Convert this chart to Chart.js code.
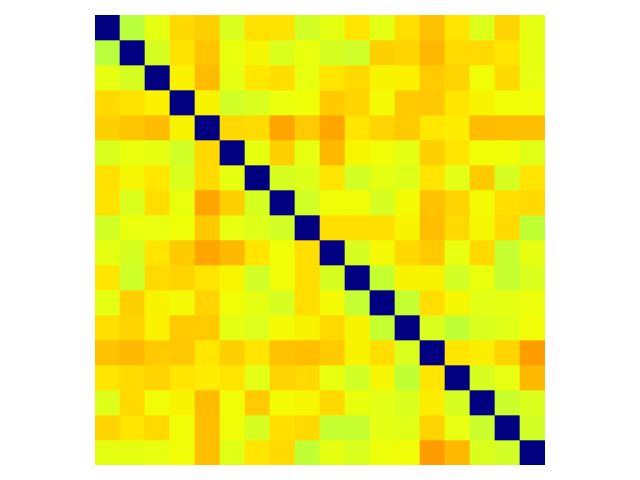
<!DOCTYPE html>
<html>
<head>
<meta charset="utf-8">
<script src="https://cdn.jsdelivr.net/npm/chart.js@4"></script>
<style>
  html, body { margin: 0; padding: 0; background: #fff; }
  canvas { display: block; }
</style>
</head>
<body>
<canvas id="heat" width="640" height="480"></canvas>
<script>
// --- Data (normalised 0..1) ---
const labels = ['0','1','2','3','4','5','6','7','8','9','10','11','12','13','14','15','16','17'];

const row0  = [0, .575, .63, .68, .69, .615, .672, .67, .605, .63, .668, .628, .675, .705, .668, .62, .685, .63];
const row1  = [.575, 0, .61, .67, .70, .635, .648, .615, .635, .61, .60, .69, .685, .715, .678, .68, .668, .63];
const row2  = [.63, .61, 0, .655, .712, .63, .665, .675, .632, .668, .68, .652, .655, .695, .685, .642, .68, .632];
const row3  = [.68, .67, .655, 0, .652, .605, .615, .635, .64, .695, .685, .645, .695, .698, .668, .652, .642, .642];
const row4  = [.69, .70, .712, .652, 0, .68, .678, .735, .695, .735, .668, .685, .695, .665, .66, .712, .708, .708];
const row5  = [.615, .635, .63, .605, .68, 0, .63, .69, .632, .715, .65, .642, .628, .69, .668, .642, .642, .622];
const row6  = [.672, .648, .665, .615, .678, .63, 0, .61, .62, .668, .605, .628, .62, .668, .625, .695, .61, .668];
const row7  = [.67, .615, .675, .635, .735, .69, .61, 0, .605, .642, .642, .61, .645, .705, .685, .645, .675, .68];
const row8  = [.605, .635, .632, .64, .695, .632, .62, .605, 0, .675, .675, .675, .652, .708, .68, .648, .68, .585];
const row9  = [.63, .61, .668, .695, .735, .715, .668, .642, .675, 0, .61, .645, .68, .695, .632, .68, .59, .63];
const row10 = [.668, .60, .68, .685, .668, .65, .605, .642, .675, .61, 0, .59, .652, .652, .605, .635, .59, .615];
const row11 = [.628, .69, .652, .645, .685, .642, .628, .61, .675, .645, .59, 0, .59, .675, .648, .625, .628, .638];
const row12 = [.675, .685, .655, .695, .695, .628, .62, .645, .652, .68, .652, .59, 0, .615, .585, .615, .622, .642];
const row13 = [.705, .715, .695, .698, .665, .69, .668, .705, .708, .695, .652, .675, .615, 0, .668, .658, .685, .745];
const row14 = [.668, .678, .685, .668, .66, .668, .625, .685, .68, .632, .605, .648, .585, .668, 0, .61, .632, .715];
const row15 = [.62, .68, .642, .652, .712, .642, .695, .645, .648, .68, .635, .625, .615, .658, .61, 0, .595, .615];
const row16 = [.685, .668, .68, .642, .708, .642, .61, .675, .68, .59, .59, .628, .622, .685, .632, .595, 0, .605];
const row17 = [.63, .63, .632, .642, .708, .622, .668, .68, .585, .63, .615, .638, .642, .745, .715, .615, .605, 0];

const rows = [row0, row1, row2, row3, row4, row5, row6, row7, row8,
              row9, row10, row11, row12, row13, row14, row15, row16, row17];

// --- jet colormap (matplotlib segment data) ---
const jetR = [[0, 0], [0.35, 0], [0.66, 1], [0.89, 1], [1, 0.5]];
const jetG = [[0, 0], [0.125, 0], [0.375, 1], [0.64, 1], [0.91, 0], [1, 0]];
const jetB = [[0, 0.5], [0.11, 1], [0.34, 1], [0.65, 0], [1, 0]];

function seg(pts, v) {
    for (let i = 1; i < pts.length; i++) {
        if (v <= pts[i][0]) {
            const [x0, y0] = pts[i - 1];
            const [x1, y1] = pts[i];
            return y0 + (y1 - y0) * (v - x0) / (x1 - x0);
        }
    }
    return pts[pts.length - 1][1];
}

function jet(v) {
    v = Math.min(1, Math.max(0, v));
    const r = Math.round(255 * seg(jetR, v));
    const g = Math.round(255 * seg(jetG, v));
    const b = Math.round(255 * seg(jetB, v));
    return `rgb(${r},${g},${b})`;
}

// each row is one stacked dataset of unit-height cells
const datasets = rows.map((row, i) => ({
    label: 'row ' + i,
    data: row.map(() => 1),
    backgroundColor: row.map(jet),
    borderWidth: 0,
    barPercentage: 1,
    categoryPercentage: 1
}));

new Chart(document.getElementById('heat').getContext('2d'), {
    type: 'bar',
    data: { labels: labels, datasets: datasets },
    options: {
        responsive: false,
        animation: false,
        layout: { padding: { left: 95, right: 95, top: 15, bottom: 15 } },
        plugins: { legend: { display: false }, tooltip: { enabled: false } },
        scales: {
            x: { stacked: true, display: false },
            y: { stacked: true, display: false, reverse: true, min: 0, max: rows.length }
        }
    }
});
</script>
</body>
</html>
